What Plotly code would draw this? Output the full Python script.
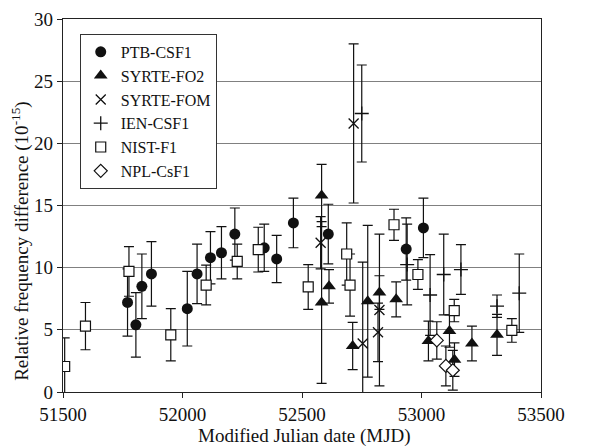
import plotly.graph_objects as go

# Primary frequency standard comparisons: relative frequency difference vs MJD
ptb_mjd = [51770, 51805, 51830, 51870, 52020, 52061, 52117, 52163, 52219, 52342, 52394, 52464, 52610, 52936, 53008]
ptb_val = [7.2, 5.4, 8.5, 9.5, 6.7, 9.5, 10.8, 11.2, 12.7, 11.6, 10.7, 13.6, 12.7, 11.5, 13.2]
ptb_err = [2.7, 2.6, 2.6, 2.6, 3.0, 2.4, 2.1, 2.1, 2.1, 1.9, 1.9, 2.0, 2.4, 2.5, 2.4]

fo2_mjd = [52582, 52582, 52613, 52712, 52775, 52824, 52894, 53029, 53117, 53138, 53211, 53316]
fo2_val = [15.8, 7.2, 8.5, 3.7, 7.3, 8.0, 7.45, 4.1, 4.9, 2.6, 3.9, 4.6]
fo2_err = [2.5, 6.5, 1.35, 1.9, 6.1, 1.35, 1.4, 1.6, 1.3, 1.35, 1.4, 1.65]

fom_mjd = [52578, 52716, 52754, 52818, 52824]
fom_val = [12.0, 21.6, 3.9, 4.8, 6.6]
fom_err = [2.1, 6.4, 6.55, 2.35, 6.1]

ien_mjd = [52750, 52940, 53036, 53093, 53165, 53316, 53409]
ien_val = [22.4, 10.25, 7.8, 9.45, 9.85, 6.9, 7.95]
ien_err = [3.9, 3.25, 3.25, 3.25, 2.0, 0.9, 3.15]

nist_mjd = [51507, 51594, 51776, 51951, 52099, 52229, 52317, 52526, 52687, 52701, 52885, 52985, 53137, 53378]
nist_val = [2.05, 5.3, 9.7, 4.6, 8.6, 10.5, 11.45, 8.45, 11.1, 8.6, 13.45, 9.45, 6.55, 4.95]
nist_err = [2.3, 1.9, 2.0, 2.1, 1.6, 1.4, 1.8, 1.8, 2.5, 2.5, 1.25, 1.2, 0.9, 0.95]

npl_mjd = [53064, 53102, 53131]
npl_val = [4.15, 2.1, 1.75]
npl_err = [1.5, 1.6, 1.6]

FONT = "Liberation Serif, Times New Roman, DejaVu Serif, serif"
INK = "#111111"


def err(arr):
    return dict(type="data", array=arr, visible=True, color=INK, thickness=1.2, width=5)


fig = go.Figure()

fig.add_trace(go.Scatter(
    x=ptb_mjd, y=ptb_val, mode="markers", name="PTB-CSF1",
    marker=dict(symbol="circle", size=11, color=INK),
    error_y=err(ptb_err)))

fig.add_trace(go.Scatter(
    x=fo2_mjd, y=fo2_val, mode="markers", name="SYRTE-FO2",
    marker=dict(symbol="triangle-up", size=12, color=INK),
    error_y=err(fo2_err)))

fig.add_trace(go.Scatter(
    x=fom_mjd, y=fom_val, mode="markers", name="SYRTE-FOM",
    marker=dict(symbol="x-thin", size=10, color=INK,
                line=dict(color=INK, width=1.3)),
    error_y=err(fom_err)))

fig.add_trace(go.Scatter(
    x=ien_mjd, y=ien_val, mode="markers", name="IEN-CSF1",
    marker=dict(symbol="cross-thin", size=10, color=INK,
                line=dict(color=INK, width=1.3)),
    error_y=err(ien_err)))

fig.add_trace(go.Scatter(
    x=nist_mjd, y=nist_val, mode="markers", name="NIST-F1",
    marker=dict(symbol="square", size=10, color="white",
                line=dict(color=INK, width=1.2)),
    error_y=err(nist_err)))

fig.add_trace(go.Scatter(
    x=npl_mjd, y=npl_val, mode="markers", name="NPL-CsF1",
    marker=dict(symbol="diamond", size=10, color="white",
                line=dict(color=INK, width=1.2)),
    error_y=err(npl_err)))

fig.update_layout(
    width=590, height=446,
    margin=dict(l=63, r=49, t=19, b=54, autoexpand=False),
    paper_bgcolor="white", plot_bgcolor="white",
    font=dict(family=FONT, size=19, color=INK),
    showlegend=True,
    legend=dict(
        x=0.035, y=0.96, xanchor="left", yanchor="top",
        bgcolor="white", bordercolor="#333333", borderwidth=1,
        font=dict(family=FONT, size=16, color=INK),
        itemwidth=30, tracegroupgap=0,
    ),
    xaxis=dict(
        range=[51500, 53500], dtick=500, tick0=51500, tickformat="d",
        showgrid=False, zeroline=False, automargin=False,
        showline=True, mirror=True, linecolor="#222222", linewidth=1.3,
        ticks="outside", ticklen=5, tickcolor="#222222",
        tickfont=dict(family=FONT, size=19),
    ),
    yaxis=dict(
        range=[0, 30], dtick=5, tick0=0,
        showgrid=True, gridcolor="#808080", gridwidth=1,
        zeroline=False, automargin=False,
        showline=True, mirror=True, linecolor="#222222", linewidth=1.3,
        ticks="outside", ticklen=5, tickcolor="#222222",
        tickfont=dict(family=FONT, size=19),
    ),
    annotations=[
        dict(
            text="Modified Julian date (MJD)",
            xref="paper", yref="paper", x=0.506, y=-0.118,
            xanchor="center", yanchor="middle",
            showarrow=False, font=dict(family=FONT, size=19, color=INK),
        ),
        dict(
            text="Relative frequency difference (10<sup>-15</sup>)",
            xref="paper", yref="paper", x=-0.088, y=0.405,
            xanchor="center", yanchor="middle", textangle=-90,
            showarrow=False, font=dict(family=FONT, size=19, color=INK),
        ),
    ],
)

fig.write_html("out.html")
